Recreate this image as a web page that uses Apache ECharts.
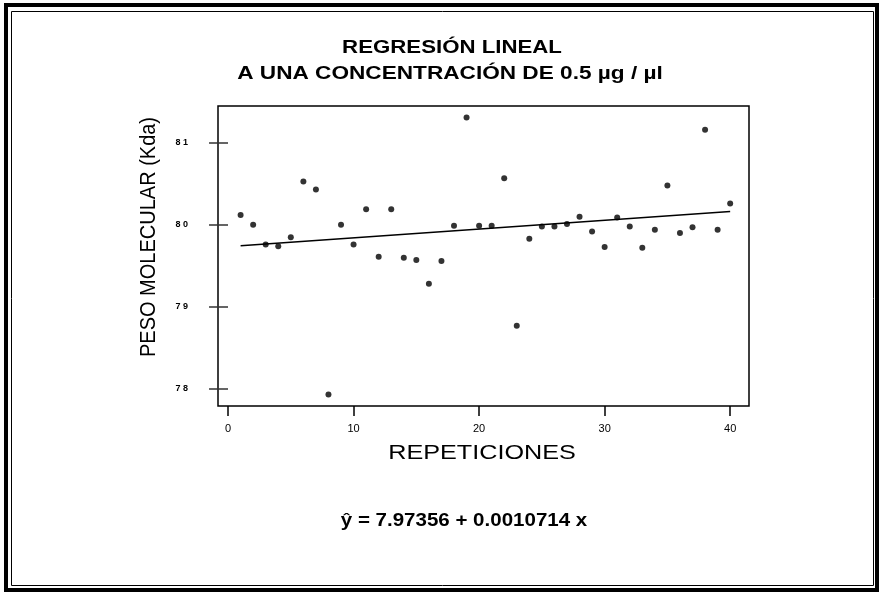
<!DOCTYPE html>
<html>
<head>
<meta charset="utf-8">
<script src="https://cdn.jsdelivr.net/npm/echarts@6/dist/echarts.min.js"></script>
<style>
html,body{margin:0;padding:0;background:#fff;}
#chart{width:879px;height:594px;}
</style>
</head>
<body>
<div id="chart"></div>
<script>
// Data
const repeticiones = [1,2,3,4,5,6,7,8,9,10,11,12,13,14,15,16,17,18,19,20,21,22,23,24,25,26,27,28,29,30,31,32,33,34,35,36,37,38,39,40];
const pesoMolecular = [80.12,80.00,79.76,79.74,79.85,80.53,80.43,77.93,80.00,79.76,
                       80.19,79.61,80.19,79.60,79.57,79.28,79.56,79.99,81.31,79.99,
                       79.99,80.57,78.77,79.83,79.98,79.98,80.01,80.10,79.92,79.73,
                       80.09,79.98,79.72,79.94,80.48,79.90,79.97,81.16,79.94,80.26];
const lineX = [1, 40];
const lineY = [79.746, 80.164];
const xTicks = [0, 10, 20, 30, 40];
const yTicks = [78, 79, 80, 81];
const yTickLabels = ['7 8', '7 9', '8 0', '8 1'];
const titleLines = ['REGRESIÓN LINEAL', 'A UNA CONCENTRACIÓN DE 0.5 µg / µl'];
const xAxisName = 'REPETICIONES';
const yAxisName = 'PESO MOLECULAR (Kda)';
const equationText = 'ŷ = 7.97356 + 0.0010714 x';

const chart = echarts.init(document.getElementById('chart'));
const font = 'Liberation Sans, Arial, sans-serif';
chart.setOption({
  animation: false,
  backgroundColor: '#fff',
  grid: {left: 218, top: 106, right: 130, bottom: 188, show: true, borderColor: '#000', borderWidth: 1.5, backgroundColor: 'transparent'},
  xAxis: {
    type: 'value', min: -0.8, max: 41.5,
    splitLine: {show: false},
    axisLine: {show: false},
    axisTick: {show: true, length: 10, customValues: xTicks, lineStyle: {color: '#000', width: 1.5}},
    axisLabel: {customValues: xTicks, margin: 17, fontFamily: font, fontSize: 11, color: '#000'}
  },
  yAxis: {
    type: 'value', min: 77.79, max: 81.45,
    splitLine: {show: false},
    axisLine: {show: false},
    axisTick: {show: true, length: 19, customValues: yTicks, lineStyle: {color: '#333', width: 1.5}},
    axisLabel: {customValues: yTicks, margin: 30, fontFamily: font, fontSize: 9, fontWeight: 'bold', color: '#000',
      formatter: function (v) { const i = yTicks.indexOf(Math.round(v)); return i >= 0 ? yTickLabels[i] : ''; }}
  },
  series: [
    {
      type: 'scatter', symbol: 'circle', symbolSize: 6,
      itemStyle: {color: '#000'},
      data: repeticiones.map((x, i) => [x, pesoMolecular[i]])
    },
    {
      type: 'line', symbol: 'none',
      lineStyle: {color: '#000', width: 1.5},
      data: lineX.map((x, i) => [x, lineY[i]])
    }
  ],
  graphic: [
    {type: 'rect', shape: {x: 6, y: 5, width: 871, height: 585}, style: {fill: 'none', stroke: '#000', lineWidth: 4}},
    {type: 'rect', shape: {x: 11.5, y: 11.5, width: 862, height: 574}, style: {fill: 'none', stroke: '#000', lineWidth: 1}},
    {type: 'text', x: 452, y: 48, scaleX: 1.17, style: {text: titleLines[0], align: 'center', verticalAlign: 'middle', fontFamily: font, fontSize: 19, fontWeight: 'bold', fill: '#000'}},
    {type: 'text', x: 450, y: 74, scaleX: 1.19, style: {text: titleLines[1], align: 'center', verticalAlign: 'middle', fontFamily: font, fontSize: 19, fontWeight: 'bold', fill: '#000'}},
    {type: 'text', x: 482, y: 453, scaleX: 1.2, style: {text: xAxisName, align: 'center', verticalAlign: 'middle', fontFamily: font, fontSize: 21, fill: '#000'}},
    {type: 'text', x: 149, y: 237, rotation: Math.PI / 2, scaleY: 1.12, style: {text: yAxisName, align: 'center', verticalAlign: 'middle', fontFamily: font, fontSize: 20, fill: '#000'}},
    {type: 'text', x: 464, y: 521, scaleX: 1.14, style: {text: equationText, align: 'center', verticalAlign: 'middle', fontFamily: font, fontSize: 18, fontWeight: 'bold', fill: '#000'}}
  ]
});
</script>
</body>
</html>
